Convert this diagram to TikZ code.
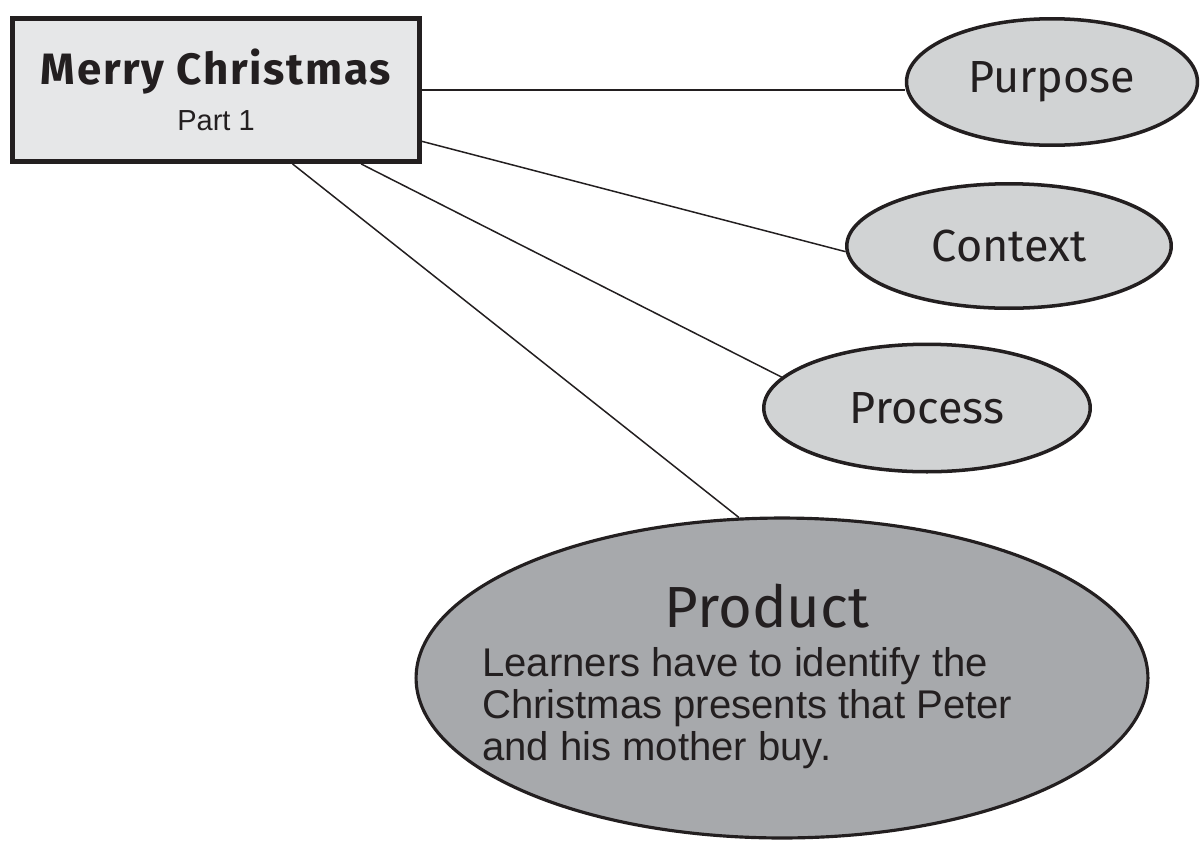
\documentclass[tikz,border=0pt]{standalone}
\usepackage{fontspec}
\setmainfont{Liberation Sans}
\newfontfamily\handfont{Fira Sans}
\newfontfamily\handboldfont[LetterSpace=4]{Fira Sans Bold}
\usetikzlibrary{shapes.geometric}

\definecolor{inkblack}{RGB}{35,31,32}
\definecolor{boxgray}{RGB}{230,231,232}
\definecolor{bubblegray}{RGB}{209,211,212}
\definecolor{productgray}{RGB}{167,169,172}

\begin{document}
\begin{tikzpicture}[x=0.02cm, y=-0.02cm,
        titlebox/.style={draw=inkblack, line width=2.8pt, fill=boxgray, inner sep=0pt, align=center, text=inkblack},
        bubble/.style={draw=inkblack, line width=2pt, ellipse, inner sep=0pt, fill=bubblegray, text=inkblack, font=\handfont\fontsize{25.6}{28}\selectfont},
        link/.style={draw=inkblack, line width=0.85pt}]
        \useasboundingbox (0,0) rectangle (1200,849);
        % main box
        \node[titlebox, minimum width=8.14cm, minimum height=2.86cm, font=\fontsize{16.5}{26}\selectfont] (box) at (216,90)
            {{\handboldfont\fontsize{25}{26}\selectfont Merry Christmas}\\Part 1};
        % the four P's
        \node[bubble, minimum width=5.82cm, minimum height=2.53cm] (purpose) at (1052,82) {Purpose};
        \node[bubble, minimum width=6.49cm, minimum height=2.49cm] (context) at (1009,246) {Context};
        \node[bubble, minimum width=6.53cm, minimum height=2.55cm] (process) at (927,408) {Process};
        \node[bubble, fill=productgray, line width=1.8pt, minimum width=14.64cm, minimum height=6.4cm] (product) at (782,678) {};
        \node[anchor=base, text=inkblack, font=\handfont\fontsize{33}{36}\selectfont] (prodtitle) at (767,627) {Product};
        \node[anchor=north west, inner sep=0pt, align=left, text=inkblack, font=\fontsize{22.8}{23.9}\selectfont] (prodtext) at (482,647)
            {Learners have to identify the\\Christmas presents that Peter\\and his mother buy.};
        % connectors
        \draw[link] (box.east) -- (box.east -| purpose.west);
        \draw[link] (box.-14.8) -- (context.182);
        \draw[link] (box.-27.5) -- (process.168);
        \draw[link] (box.-44.2) -- (product.105.4);
\end{tikzpicture}
\end{document}
